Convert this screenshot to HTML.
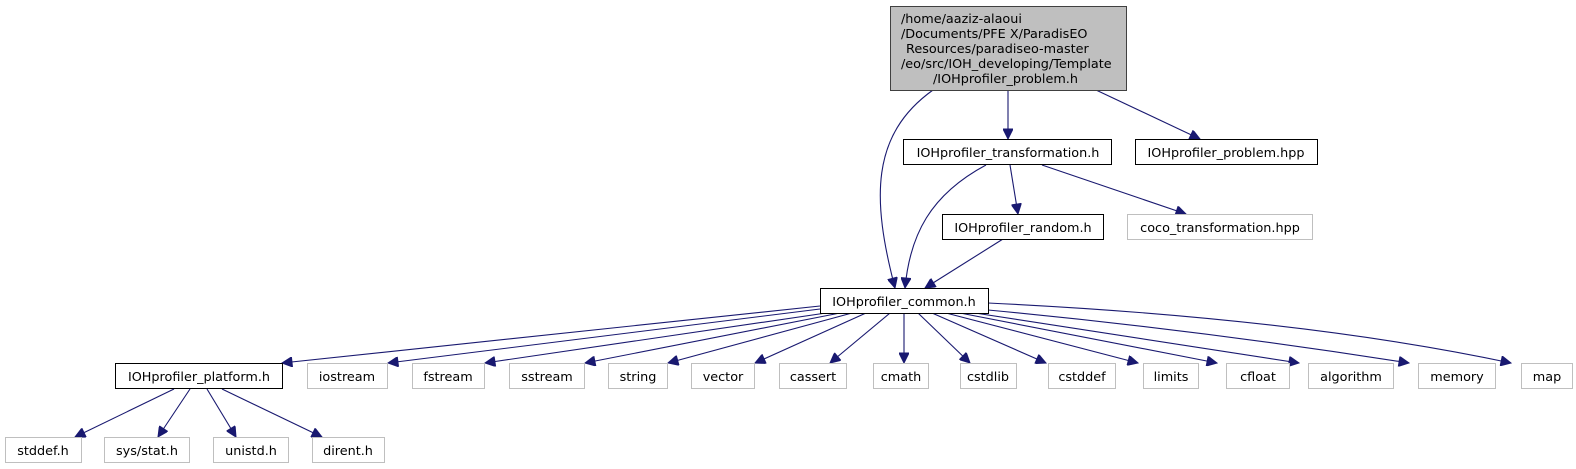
<!DOCTYPE html>
<html><head><meta charset="utf-8"><style>
html,body{margin:0;padding:0;background:#fff;width:1576px;height:469px;overflow:hidden}
svg text{font-family:"DejaVu Sans","Liberation Sans",sans-serif;font-size:12.8px;fill:#000}
</style></head><body>
<svg width="1576" height="469" viewBox="0 0 1576 469" xmlns="http://www.w3.org/2000/svg">
<defs>
<marker id="a" viewBox="0 0 10 10" refX="10" refY="5" markerWidth="12" markerHeight="10" markerUnits="userSpaceOnUse" orient="auto">
<path d="M0,0 L10,5 L0,10 z" fill="#191970" stroke="#191970"/>
</marker>
</defs>
<g fill="none" stroke="#191970" stroke-width="1.1" marker-end="url(#a)">
<path d="M933,90 C870,135 872,200 895,288"/>
<path d="M1008,90 L1008,139"/>
<path d="M1096,90 L1200,139"/>
<path d="M986,165 C930,195 910,235 905,288"/>
<path d="M1010,165 L1018,214"/>
<path d="M1042,165 L1186,214"/>
<path d="M1003,239 L925,288"/>
<path d="M820,306 L282,363"/>
<path d="M820,309 L388,363"/>
<path d="M826,313 L485,363"/>
<path d="M840,313 L585,363"/>
<path d="M852,313 L668,363"/>
<path d="M866,313 L755,363"/>
<path d="M890,313 L830,363"/>
<path d="M904,313 L904,363"/>
<path d="M918,313 L970,363"/>
<path d="M932,313 L1046,363"/>
<path d="M946,313 L1138,363"/>
<path d="M960,313 L1217,363"/>
<path d="M975,313 L1299,363"/>
<path d="M988,310 Q1200,330 1409,363"/>
<path d="M988,303 Q1300,318 1511,363"/>
<path d="M174,389 L75,437"/>
<path d="M190,389 L158,437"/>
<path d="M207,389 L236,437"/>
<path d="M222,389 L322,437"/>
</g>
<rect x="890.5" y="6.5" width="236" height="84" fill="#bfbfbf" stroke="#404040"/>
<text x="901" y="23">/home/aaziz-alaoui</text>
<text x="901" y="38">/Documents/PFE X/ParadisEO</text>
<text x="906" y="53">Resources/paradiseo-master</text>
<text x="901" y="68">/eo/src/IOH_developing/Template</text>
<text x="933" y="83">/IOHprofiler_problem.h</text>
<g fill="#fff" stroke="#000">
<rect x="903.5" y="139.5" width="208" height="25"/>
<rect x="1135.5" y="139.5" width="182" height="25"/>
<rect x="942.5" y="214.5" width="161" height="25"/>
<rect x="820.5" y="288.5" width="168" height="25"/>
<rect x="115.5" y="363.5" width="167" height="25"/>
</g>
<g fill="#fff" stroke="#bfbfbf">
<rect x="1127.5" y="214.5" width="185" height="25"/>
<rect x="307.5" y="363.5" width="80" height="25"/>
<rect x="412.5" y="363.5" width="72" height="25"/>
<rect x="509.5" y="363.5" width="75" height="25"/>
<rect x="608.5" y="363.5" width="59" height="25"/>
<rect x="691.5" y="363.5" width="63" height="25"/>
<rect x="779.5" y="363.5" width="67" height="25"/>
<rect x="873.5" y="363.5" width="55" height="25"/>
<rect x="960.5" y="363.5" width="56" height="25"/>
<rect x="1048.5" y="363.5" width="67" height="25"/>
<rect x="1143.5" y="363.5" width="55" height="25"/>
<rect x="1226.5" y="363.5" width="63" height="25"/>
<rect x="1308.5" y="363.5" width="85" height="25"/>
<rect x="1418.5" y="363.5" width="77" height="25"/>
<rect x="1521.5" y="363.5" width="51" height="25"/>
<rect x="5.5" y="437.5" width="76" height="25"/>
<rect x="104.5" y="437.5" width="85" height="25"/>
<rect x="213.5" y="437.5" width="75" height="25"/>
<rect x="312.5" y="437.5" width="72" height="25"/>
</g>
<g text-anchor="middle">
<text x="1008" y="157">IOHprofiler_transformation.h</text>
<text x="1226" y="157">IOHprofiler_problem.hpp</text>
<text x="1023" y="232">IOHprofiler_random.h</text>
<text x="1220" y="232">coco_transformation.hpp</text>
<text x="904" y="306">IOHprofiler_common.h</text>
<text x="199" y="381">IOHprofiler_platform.h</text>
<text x="347" y="381">iostream</text>
<text x="448" y="381">fstream</text>
<text x="547" y="381">sstream</text>
<text x="638" y="381">string</text>
<text x="723" y="381">vector</text>
<text x="813" y="381">cassert</text>
<text x="901" y="381">cmath</text>
<text x="988" y="381">cstdlib</text>
<text x="1082" y="381">cstddef</text>
<text x="1171" y="381">limits</text>
<text x="1258" y="381">cfloat</text>
<text x="1351" y="381">algorithm</text>
<text x="1457" y="381">memory</text>
<text x="1547" y="381">map</text>
<text x="43" y="455">stddef.h</text>
<text x="147" y="455">sys/stat.h</text>
<text x="251" y="455">unistd.h</text>
<text x="348" y="455">dirent.h</text>
</g>
</svg>
</body></html>
